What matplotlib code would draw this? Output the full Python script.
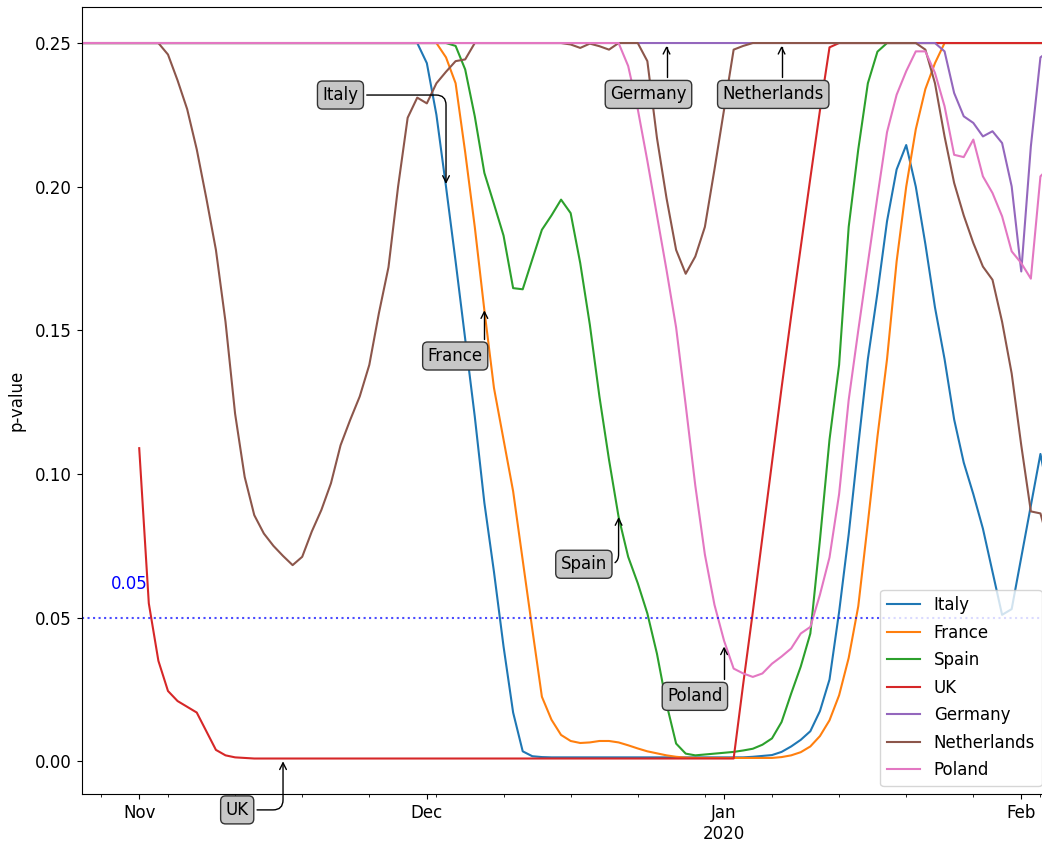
import numpy as np
import pandas as pd
import matplotlib
matplotlib.use("Agg")
import matplotlib.pyplot as plt
import matplotlib.dates as mdates
from matplotlib.ticker import FuncFormatter

plt.rcParams['font.size'] = 12

# daily p-values, 2019-10-26 .. 2020-02-04
dates = pd.date_range('2019-10-26', '2020-02-04', freq='D')
nan = np.nan

italy = ([0.25] * 36 +
         [0.243, 0.225, 0.200, 0.174, 0.147, 0.120, 0.090, 0.066, 0.040, 0.017,
          0.0035, 0.0018, 0.0015] +
         [0.0014] * 21 +
         [0.0016, 0.0019, 0.0022, 0.0033, 0.0052, 0.0075, 0.0105, 0.0175, 0.0285, 0.052,
          0.079, 0.110, 0.140, 0.163, 0.188, 0.206, 0.2145, 0.200, 0.180, 0.158,
          0.140, 0.119, 0.104, 0.093, 0.081, 0.066, 0.051, 0.053, 0.071, 0.089,
          0.107, 0.090])

france = ([0.25] * 38 +
          [0.245, 0.236, 0.212, 0.186, 0.157, 0.130, 0.112, 0.094, 0.070, 0.046,
           0.0225, 0.0145, 0.0092, 0.0071, 0.0064, 0.0066, 0.0071, 0.0071, 0.0066, 0.0056,
           0.0045, 0.0035, 0.0028, 0.0021, 0.0016, 0.0013] +
          [0.0012] * 9 +
          [0.0015, 0.0021, 0.0032, 0.0052, 0.0088, 0.0143, 0.023, 0.036, 0.054, 0.083,
           0.113, 0.140, 0.174, 0.200, 0.220, 0.234, 0.243] +
          [0.25] * 12)

spain = ([0.25] * 39 +
         [0.249, 0.2408, 0.2245, 0.2048, 0.194, 0.183, 0.1647, 0.1643, 0.1747, 0.185,
          0.190, 0.1955, 0.1908, 0.1734, 0.152, 0.127, 0.105, 0.0851, 0.0712, 0.062,
          0.0515, 0.0375, 0.020, 0.0062, 0.0027, 0.0021, 0.0024, 0.0027, 0.0030, 0.0033,
          0.0038, 0.0044, 0.0058, 0.0080, 0.0137, 0.0236, 0.033, 0.0445, 0.077, 0.112,
          0.138, 0.186, 0.213, 0.236, 0.247] +
         [0.25] * 18)

uk = ([nan] * 6 +
      [0.109, 0.055, 0.035, 0.0245, 0.021, 0.019, 0.017, 0.0105, 0.004, 0.0021,
       0.0014, 0.0012] +
      [0.001] * 51 +
      [0.027, 0.052, 0.078, 0.104, 0.130, 0.155, 0.179, 0.203, 0.2265, 0.2485] +
      [0.25] * 23)

germany = ([0.25] * 90 +
           [0.2471, 0.2326, 0.2245, 0.2222, 0.2175, 0.2193, 0.2152, 0.2001, 0.1705, 0.214,
            0.245, 0.2475])

netherlands = ([0.25] * 9 +
               [0.246, 0.237, 0.227, 0.213, 0.196, 0.178, 0.153, 0.121, 0.099, 0.0857,
                0.0793, 0.075, 0.0715, 0.0683, 0.0712, 0.080, 0.0875, 0.0968, 0.110, 0.1188,
                0.127, 0.138, 0.156, 0.172, 0.200, 0.224, 0.231, 0.229, 0.236, 0.240,
                0.2437, 0.2443] +
               [0.25] * 10 +
               [0.2495, 0.2483, 0.2498, 0.2489, 0.2477, 0.25, 0.25, 0.25] +
               [0.2437, 0.217, 0.196, 0.178, 0.1697, 0.1757, 0.186, 0.206, 0.2268, 0.2477,
                0.249] +
               [0.25] * 18 +
               [0.2477, 0.236, 0.2175, 0.2013, 0.190, 0.1804, 0.1722, 0.1676, 0.153, 0.135,
                0.110, 0.087, 0.0863, 0.074])

poland = ([0.25] * 57 +
          [0.242, 0.227, 0.209, 0.190, 0.171, 0.151, 0.124, 0.096, 0.072, 0.0545,
           0.042, 0.0323, 0.0306, 0.0294, 0.0306, 0.034, 0.0365, 0.0393, 0.0445, 0.0468,
           0.058, 0.071, 0.093, 0.1258, 0.150, 0.1734, 0.1966, 0.219, 0.232, 0.2402,
           0.2471, 0.2471, 0.2396, 0.228, 0.2111, 0.2103, 0.2164, 0.2036, 0.1978, 0.1897,
           0.1775, 0.1734, 0.168, 0.2036, 0.207])

countries = ['Italy', 'France', 'Spain', 'UK', 'Germany', 'Netherlands', 'Poland']
df = pd.DataFrame({'Italy': italy, 'France': france, 'Spain': spain, 'UK': uk,
                   'Germany': germany, 'Netherlands': netherlands, 'Poland': poland},
                  index=dates)

# labelled points and where the label boxes sit (offset in points)
annot_date = ['2019-12-03', '2019-12-07', '2019-12-21', '2019-11-16',
              '2019-12-26', '2020-01-07', '2020-01-01']
annot_val = [0.200, 0.158, 0.086, 0.001, 0.25, 0.25, 0.041]
annot_off = [(-76, 66), (-21, -35), (-25, -36), (-33, -37),
             (-13, -37), (-6, -37), (-21, -38)]

fig = plt.figure(figsize=(10.42, 8.44), dpi=100)
ax = fig.add_axes([0.0784, 0.0589, 0.9293, 0.9325])

for c in countries:
    ax.plot(df.index, df[c], label=c)

ax.axhline(0.05, color='blue', linestyle=':', alpha=0.7)
ax.text(pd.Timestamp('2019-10-29'), 0.06, '0.05', color='blue')

for c, d, v, off in zip(countries, annot_date, annot_val, annot_off):
    ax.annotate(c, xy=(pd.Timestamp(d), v), xytext=off, textcoords='offset points',
                ha='center', va='center',
                bbox=dict(boxstyle='round', fc='0.78', ec='0.2'),
                arrowprops=dict(arrowstyle='->',
                                connectionstyle='angle,angleA=0,angleB=90,rad=10'),
                annotation_clip=False)

ax.set_xlim(dates[0], dates[-1])
ax.xaxis.set_major_locator(mdates.MonthLocator())
ax.xaxis.set_minor_locator(mdates.WeekdayLocator(byweekday=mdates.MO))


def month_label(x, pos):
    d = mdates.num2date(x)
    return d.strftime('%b\n%Y') if d.month == 1 else d.strftime('%b')


ax.xaxis.set_major_formatter(FuncFormatter(month_label))
ax.set_ylabel('p-value', labelpad=7)
ax.legend(loc='lower right', labelspacing=0.57)

fig.savefig('out.png', dpi=100)
